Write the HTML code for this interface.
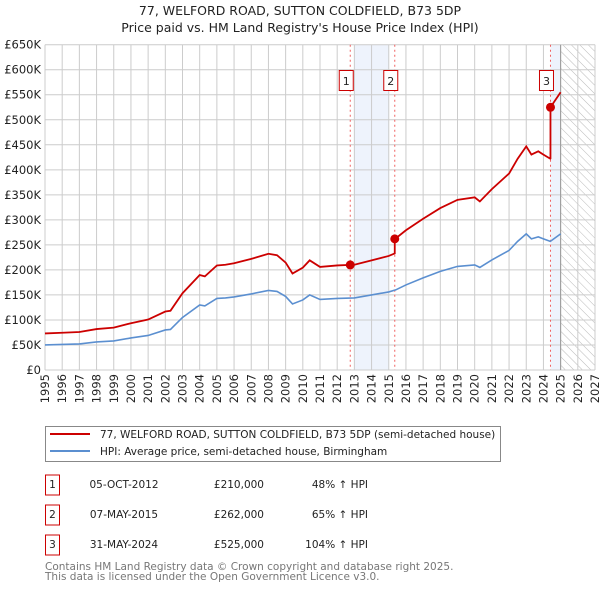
<!DOCTYPE html>
<html><head><meta charset="utf-8"><style>
body{margin:0;background:#fff;width:600px;height:590px;overflow:hidden}
svg{display:block;font-family:"DejaVu Sans","Liberation Sans",sans-serif}
</style></head><body>
<svg id="chart" width="600" height="590" viewBox="0 0 600 590">
<defs><pattern id="hatch" width="6" height="6" patternUnits="userSpaceOnUse" patternTransform="rotate(-45)"><line x1="0" y1="0" x2="0" y2="6" stroke="#bbb" stroke-width="1"/></pattern></defs>
<text x="300" y="15" text-anchor="middle" font-size="12.5" fill="#222">77, WELFORD ROAD, SUTTON COLDFIELD, B73 5DP</text>
<text x="300" y="32" text-anchor="middle" font-size="12.5" fill="#222">Price paid vs. HM Land Registry's House Price Index (HPI)</text>
<g id="grid"></g><g id="marks"></g><g id="axes"></g>
<g>
<rect x="45.5" y="426.5" width="455" height="35" fill="#fff" stroke="#888"/>
<line x1="50" y1="434" x2="90" y2="434" stroke="#cc0000" stroke-width="2"/>
<text x="100" y="438" font-size="10.5" fill="#222">77, WELFORD ROAD, SUTTON COLDFIELD, B73 5DP (semi-detached house)</text>
<line x1="50" y1="451" x2="90" y2="451" stroke="#5b8fd0" stroke-width="2"/>
<text x="100" y="455" font-size="10.5" fill="#222">HPI: Average price, semi-detached house, Birmingham</text>
</g>
<g id="table" font-size="10.5" fill="#222"></g>
<text x="45" y="570" font-size="10.5" fill="#777">Contains HM Land Registry data © Crown copyright and database right 2025.</text>
<text x="45" y="580" font-size="10.5" fill="#777">This data is licensed under the Open Government Licence v3.0.</text>
</svg>
<script>
const hpiYears=[1995,1996,1997,1998,1999,2000,2001,2002,2002.3,2003,2004,2004.3,2005,2005.5,2006,2007,2008,2008.5,2009,2009.4,2010,2010.4,2011,2012,2013,2014,2015,2015.4,2016,2017,2018,2019,2020,2020.3,2021,2022,2022.5,2023,2023.3,2023.7,2024,2024.4,2025];
const hpiValues=[50,51,52,56,58,64,69,80,81,105,130,128,143,144,146,152,159,157,147,132,140,150,141,143,144,150,156,160,170,184,197,207,210,205,220,239,257,272,262,266,262,257,272];
const saleDates=[2012.76,2015.35,2024.41];
const salePrices=[210,262,525];
const saleLabels=["05-OCT-2012","07-MAY-2015","31-MAY-2024"];
const salePriceText=["£210,000","£262,000","£525,000"];
const saleHpiText=["48% ↑ HPI","65% ↑ HPI","104% ↑ HPI"];
const yTicks=[0,50,100,150,200,250,300,350,400,450,500,550,600,650];
const xTicks=[1995,1996,1997,1998,1999,2000,2001,2002,2003,2004,2005,2006,2007,2008,2009,2010,2011,2012,2013,2014,2015,2016,2017,2018,2019,2020,2021,2022,2023,2024,2025,2026,2027];
const NS="http://www.w3.org/2000/svg";
const X0=45,X1=595,Y0=370,Y1=44.7;
const x=v=>X0+(v-1995)/(2027-1995)*(X1-X0);
const y=v=>Y0-v/650*(Y0-Y1);
function mk(tag,attrs,parent){const e=document.createElementNS(NS,tag);for(const k in attrs)e.setAttribute(k,attrs[k]);parent.appendChild(e);return e;}
function hpiAt(t){for(let i=1;i<hpiYears.length;i++){if(t<=hpiYears[i]){const f=(t-hpiYears[i-1])/(hpiYears[i]-hpiYears[i-1]);return hpiValues[i-1]+f*(hpiValues[i]-hpiValues[i-1]);}}return hpiValues[hpiValues.length-1];}
const grid=document.getElementById('grid'),marks=document.getElementById('marks'),axes=document.getElementById('axes'),table=document.getElementById('table');
let s1=mk('rect',{x:x(2013),y:Y1,width:x(2015)-x(2013),height:Y0-Y1,fill:'#eef3fc'},grid);


let s2=mk('rect',{x:x(saleDates[2]),y:Y1,width:x(2025)-x(saleDates[2]),height:Y0-Y1,fill:'#eef3fc'},grid);


let hz=mk('rect',{x:x(2025),y:Y1,width:X1-x(2025),height:Y0-Y1,fill:'url(#hatch)'},grid);


yTicks.forEach(v=>{mk('line',{x1:X0,x2:X1,y1:y(v),y2:y(v),stroke:'#ccc'},grid);
 const t=mk('text',{x:X0-4,y:y(v)+4,'text-anchor':'end','font-size':'11.5',fill:'#222'},axes);t.textContent='£'+(v?v+'K':'0');
 
 });
xTicks.forEach(v=>{mk('line',{x1:x(v),x2:x(v),y1:Y1,y2:Y0,stroke:'#ccc'},grid);
 const tx=x(v)+4,ty=Y0+4;
 const t=mk('text',{x:tx,y:ty,'text-anchor':'end','font-size':'11.5',fill:'#222',transform:'rotate(-90 '+tx+' '+ty+')'},axes);t.textContent=v;
 
 });
mk('line',{x1:x(2025),x2:x(2025),y1:Y1,y2:Y0,stroke:'#999'},grid);
saleDates.forEach((d,i)=>{mk('line',{x1:x(d),x2:x(d),y1:Y1,y2:Y0,stroke:'#f06060','stroke-dasharray':'2,3'},marks);
 const g=mk('g',{},marks);
 
 
 mk('rect',{x:x(d)-7-4,y:70.5,width:14,height:20,fill:'#fff',stroke:'#cc0000'},g);
 const t=mk('text',{x:x(d)-4,y:85,'text-anchor':'middle','font-size':'11',fill:'#222'},g);t.textContent=i+1;});
let pts=hpiYears.map((t,i)=>x(t)+','+y(hpiValues[i])).join(' ');
const hl=mk('polyline',{points:pts,fill:'none',stroke:'#5b8fd0','stroke-width':'1.6'},marks);


const ratios=saleDates.map((d,i)=>salePrices[i]/hpiAt(d));
let rp=[];
function rat(t){if(t<saleDates[1])return ratios[0];if(t<saleDates[2])return ratios[1];return ratios[2];}
let times=hpiYears.slice();saleDates.forEach(d=>times.push(d-0.001,d));times.sort((a,b)=>a-b);
times.forEach(t=>rp.push(x(t)+','+y(hpiAt(t)*rat(t))));
const pl=mk('polyline',{points:rp.join(' '),fill:'none',stroke:'#cc0000','stroke-width':'1.8'},marks);


saleDates.forEach((d,i)=>{const c=mk('circle',{cx:x(d),cy:y(salePrices[i]),r:4.5,fill:'#cc0000'},marks);
 
 });
saleDates.forEach((d,i)=>{const yy=485+i*30;
 const g=mk('g',{},table);
 
 
 mk('rect',{x:45.5,y:yy-10,width:14,height:20,fill:'#fff',stroke:'#cc0000'},g);
 let t=mk('text',{x:52.5,y:yy+3,'text-anchor':'middle'},g);t.textContent=i+1;
 t=mk('text',{x:124,y:yy+3,'text-anchor':'middle'},g);t.textContent=saleLabels[i];
 t=mk('text',{x:264,y:yy+3,'text-anchor':'end'},g);t.textContent=salePriceText[i];
 t=mk('text',{x:368,y:yy+3,'text-anchor':'end'},g);t.textContent=saleHpiText[i];});
</script>
</body></html>
